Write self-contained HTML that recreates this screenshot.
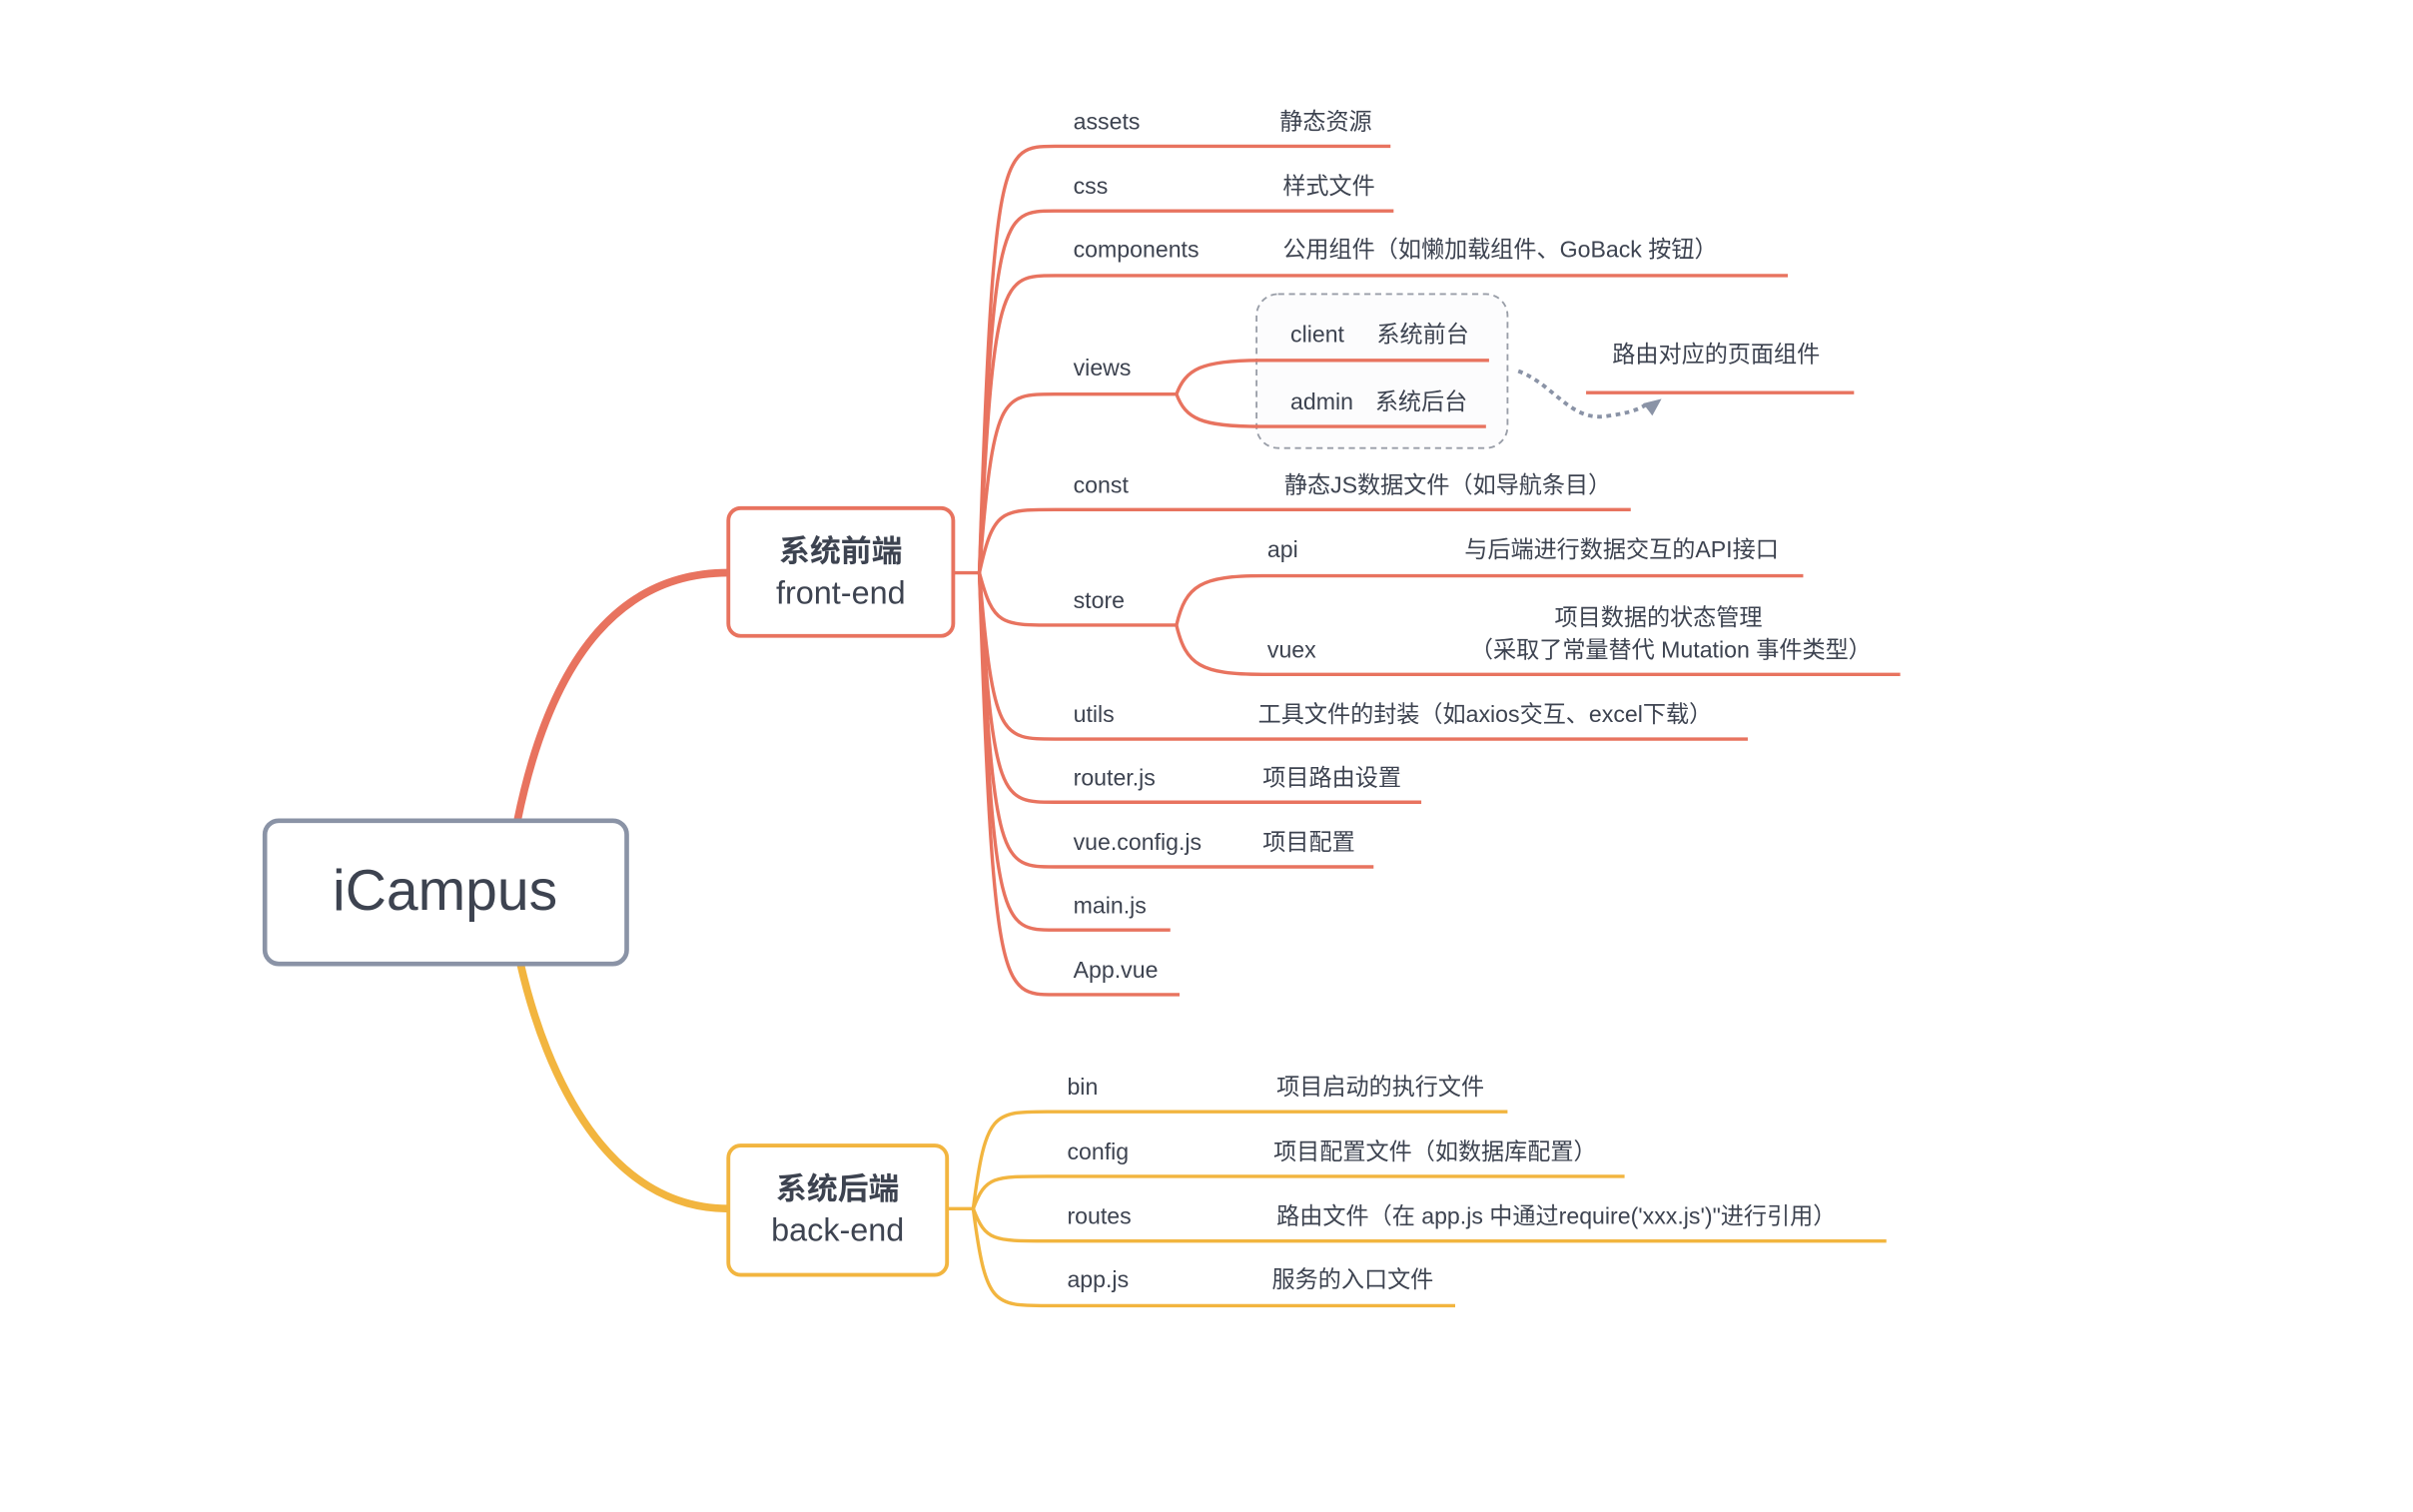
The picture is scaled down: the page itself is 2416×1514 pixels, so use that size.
<!DOCTYPE html>
<html><head><meta charset="utf-8"><style>
html,body{margin:0;padding:0;background:#fff;}
svg{display:block;}
text{font-family:"Liberation Sans","Noto Sans CJK SC",sans-serif;fill:#3d4350;}
</style></head><body>
<svg width="2416" height="1514" viewBox="0 0 1567 982" preserveAspectRatio="none" xmlns="http://www.w3.org/2000/svg">
<g fill="none" stroke-linecap="round">
<path d="M336,533 C355,440 395,372 473,372" stroke="#e8735f" stroke-width="5"/>
<path d="M338,626 C355,700 395,785 473,785" stroke="#f2b53f" stroke-width="5"/>
</g>
<rect x="172" y="533" width="235" height="93" rx="9" fill="#fff" stroke="#8a93a6" stroke-width="3"/>
<text x="289" y="591" font-size="37" text-anchor="middle">iCampus</text>
<rect x="473" y="330" width="146" height="83" rx="8" fill="#fff" stroke="#e8735f" stroke-width="2.5"/>
<text x="546" y="365" font-size="20" font-weight="bold" text-anchor="middle">系统前端</text>
<text x="546" y="392" font-size="21" text-anchor="middle">front-end</text>
<rect x="473" y="744" width="142" height="84" rx="8" fill="#fff" stroke="#f2b53f" stroke-width="2.5"/>
<text x="544" y="779" font-size="20" font-weight="bold" text-anchor="middle">系统后端</text>
<text x="544" y="806" font-size="21" text-anchor="middle">back-end</text>

<g fill="none" stroke="#e8735f" stroke-width="2.2">
<path d="M619,372 H636"/>
<path d="M636,372 C645,95 650,95 685,95 H903"/>
<path d="M636,372 C645,137 650,137 685,137 H905"/>
<path d="M636,372 C645,179 650,179 685,179 H1161"/>
<path d="M636,372 C645,256 650,256 685,256 H764"/>
<path d="M636,372 C645,331 650,331 685,331 H1059"/>
<path d="M636,372 C645,406 650,406 685,406 H764"/>
<path d="M636,372 C645,480 650,480 685,480 H1135"/>
<path d="M636,372 C645,521 650,521 685,521 H923"/>
<path d="M636,372 C645,563 650,563 685,563 H892"/>
<path d="M636,372 C645,604 650,604 685,604 H760"/>
<path d="M636,372 C645,646 650,646 685,646 H766"/>
<path d="M764,406 C770,380 780,374 820,374 H1171"/>
<path d="M764,406 C770,432 780,438 820,438 H1234"/>
<path d="M1030,255 H1204"/>
</g>
<rect x="816" y="191" width="163" height="100" rx="14" fill="#fafafc" fill-opacity="0.6" stroke="#999ea8" stroke-width="1.2" stroke-dasharray="4,3"/>
<g fill="none" stroke="#e8735f" stroke-width="2.2">
<path d="M764,256 C770,240 780,234 818,234 H967"/>
<path d="M764,256 C770,272 780,277 818,277 H965"/>
</g>
<path d="M986,241 C1010,250 1020,275 1045,270 C1060,268 1066,265 1070,262" fill="none" stroke="#8a93a6" stroke-width="2.5" stroke-dasharray="3,3"/>
<path d="M1067,262 L1079,259 L1073,270 Z" fill="#8a93a6"/>

<g fill="none" stroke="#f2b53f" stroke-width="2.2">
<path d="M615,785 H632"/>
<path d="M632,785 C640,722 645,722 680,722 H979"/>
<path d="M632,785 C640,764 645,764 680,764 H1055"/>
<path d="M632,785 C640,806 645,806 680,806 H1225"/>
<path d="M632,785 C640,848 645,848 680,848 H945"/>
</g>

<g font-size="15">
<text x="697" y="84">assets</text><text x="831" y="84">静态资源</text>
<text x="697" y="126">css</text><text x="833" y="126">样式文件</text>
<text x="697" y="167">components</text><text x="833" y="167">公用组件（如懒加载组件、GoBack 按钮）</text>
<text x="697" y="244">views</text>
<text x="838" y="222">client</text><text x="894" y="222">系统前台</text>
<text x="838" y="266">admin</text><text x="893" y="266">系统后台</text>
<text x="1047" y="235">路由对应的页面组件</text>
<text x="697" y="320">const</text><text x="834" y="320">静态JS数据文件（如导航条目）</text>
<text x="697" y="395">store</text>
<text x="823" y="362">api</text><text x="951" y="362">与后端进行数据交互的API接口</text>
<text x="823" y="427">vuex</text>
<text x="1077" y="406" text-anchor="middle">项目数据的状态管理</text>
<text x="1085" y="427" text-anchor="middle">（采取了常量替代 Mutation 事件类型）</text>
<text x="697" y="469">utils</text><text x="817" y="469">工具文件的封装（如axios交互、excel下载）</text>
<text x="697" y="510">router.js</text><text x="820" y="510">项目路由设置</text>
<text x="697" y="552">vue.config.js</text><text x="820" y="552">项目配置</text>
<text x="697" y="593">main.js</text>
<text x="697" y="635">App.vue</text>
<text x="693" y="711">bin</text><text x="829" y="711">项目启动的执行文件</text>
<text x="693" y="753">config</text><text x="827" y="753">项目配置文件（如数据库配置）</text>
<text x="693" y="795">routes</text><text x="829" y="795">路由文件（在 app.js 中通过require('xxx.js')"进行引用）</text>
<text x="693" y="836">app.js</text><text x="826" y="836">服务的入口文件</text>
</g>
</svg>
</body></html>
